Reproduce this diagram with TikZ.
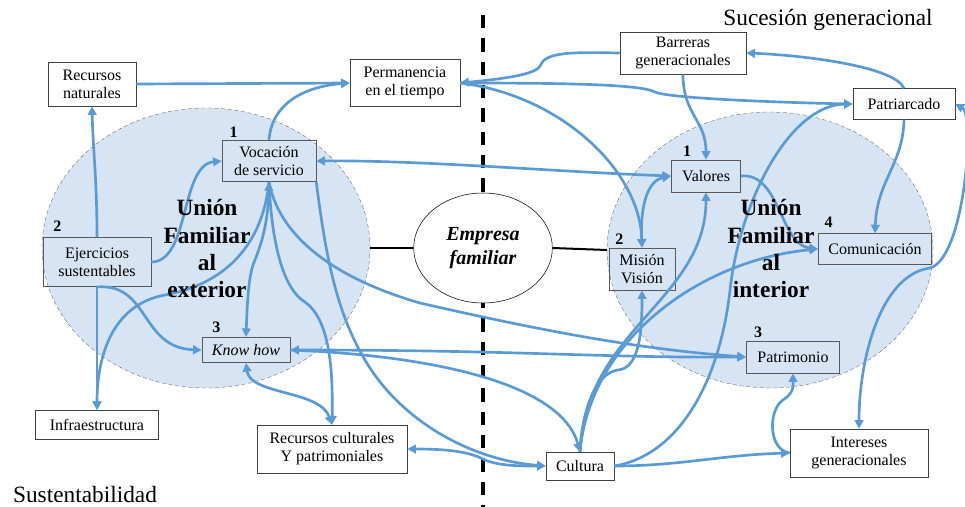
\documentclass[tikz,border=0pt]{standalone}
\usepackage{fontspec}
\setmainfont{Liberation Serif}
\usepackage{xcolor}
\usepackage{tikz}
\usetikzlibrary{shapes.geometric, arrows.meta, positioning}

\definecolor{linkblue}{RGB}{91,155,213}
\definecolor{zoneblue}{RGB}{214,228,243}

\begin{document}
\begin{tikzpicture}[
        x=0.75pt, y=-0.75pt,
        outbox/.style={rectangle, draw=black!75, fill=white, align=center, inner sep=1pt, font=\fontsize{12}{13.5}\selectfont},
        inbox/.style={rectangle, draw=black!65, align=center, inner sep=1pt, font=\fontsize{12}{13.5}\selectfont},
        zone/.style={ellipse, draw=black!70, densely dashed, very thin, fill=zoneblue, inner sep=0pt},
        core/.style={ellipse, draw=black, thin, fill=white, inner sep=0pt, align=center, font=\fontsize{15}{18}\selectfont\bfseries\itshape},
        zonetitle/.style={align=center, font=\fontsize{17.5}{20.5}\selectfont\bfseries},
        num/.style={font=\fontsize{12}{14}\selectfont\bfseries, inner sep=2pt},
        theme/.style={font=\fontsize{17.5}{20}\selectfont},
        link/.style={-{Triangle[length=6.5pt, width=6.5pt]}, line width=2pt, color=linkblue},
        dlink/.style={{Triangle[length=6.5pt, width=6.5pt]}-{Triangle[length=6.5pt, width=6.5pt]}, line width=2pt, color=linkblue},
        tie/.style={line width=1.5pt, black}
    ]
    \useasboundingbox (0,0) rectangle (965,507);

    % Union zones
    \node (ext) [zone, minimum width=246pt, minimum height=210pt] at (206,248) {};
    \node (int) [zone, minimum width=244.5pt, minimum height=207pt] at (770,250) {};

    % Divider
    \draw[line width=3pt, dash pattern=on 10pt off 7.5pt] (483,15) -- (483,507);

    % Empresa familiar
    \node (emp) [core, minimum width=104pt, minimum height=82.5pt] at (483,248) {Empresa\\familiar};
    \draw[tie] (ext.east) -- (emp.west);
    \draw[tie] (emp.east) -- (int.west);

    % Outer boxes
    \node (recnat) [outbox, minimum width=66pt, minimum height=33pt] at (92,84) {Recursos\\naturales};
    \node (perm) [outbox, minimum width=82.5pt, minimum height=35pt] at (405,83) {Permanencia\\en el tiempo};
    \node (barr) [outbox, minimum width=94.5pt, minimum height=31.5pt] at (683,53) {Barreras\\generacionales};
    \node (patr) [outbox, minimum width=76.5pt, minimum height=23pt] at (904,104) {Patriarcado};
    \node (infra) [outbox, minimum width=92pt, minimum height=22pt] at (97,425) {Infraestructura};
    \node (reccul) [outbox, minimum width=112.5pt, minimum height=36pt] at (332,449) {Recursos culturales\\Y patrimoniales};
    \node (cul) [outbox, minimum width=51pt, minimum height=21pt] at (580,466) {Cultura};
    \node (inter) [outbox, minimum width=103.5pt, minimum height=36pt] at (859,453) {Intereses\\generacionales};

    % Union al exterior
    \node (voc) [inbox, minimum width=70.5pt, minimum height=31pt] at (269,161) {Vocación\\de servicio};
    \node (ejer) [inbox, minimum width=81pt, minimum height=37pt] at (97,262) {Ejercicios\\sustentables};
    \node (know) [inbox, minimum width=66pt, minimum height=19pt] at (246,350) {\itshape Know how};

    % Union al interior
    \node (val) [inbox, minimum width=52pt, minimum height=24pt] at (706,176) {Valores};
    \node (mis) [inbox, minimum width=49.5pt, minimum height=31.5pt] at (642,269) {Misión\\Visión};
    \node (com) [inbox, minimum width=85pt, minimum height=23pt] at (875,249) {Comunicación};
    \node (patm) [inbox, minimum width=70pt, minimum height=24pt] at (793,357) {Patrimonio};

    % Sustentabilidad side
    \draw[link] (recnat.east) -- (perm.west);
    \draw[link] (voc.north) .. controls (272,100) and (310,86) .. (perm.west);
    \draw[link] (ejer.north) .. controls (97,180) and (93,150) .. (recnat.south);
    \draw[link] (ejer.east) .. controls (190,262) and (180,165) .. (voc.west);
    \draw[link] (ejer.south) -- (infra.north);
    \draw[link] (ejer.south) .. controls (150,283) and (140,348) .. (know.west);
    \draw[dlink] (voc.south) .. controls (268,230) and (258,252) .. (253,265) .. controls (248,280) and (247,310) .. (know.north);
    \draw[link] (voc.south) .. controls (262,250) and (220,285) .. (165,295) .. controls (110,305) and (97,360) .. (infra.north);
    \draw[link] (voc.south) .. controls (272,250) and (285,290) .. (305,302) .. controls (330,320) and (333,370) .. (reccul.north);
    \draw[dlink] (know.south) .. controls (250,395) and (320,390) .. (reccul.north);
    \draw[link] (voc.south) .. controls (280,240) and (340,280) .. (420,303) .. controls (560,335) and (650,350) .. (patm.west);
    \draw[link] (voc.south east) .. controls (325,250) and (335,310) .. (365,360) .. controls (400,420) and (470,460) .. (cul.west);
    \draw[dlink] (voc.east) .. controls (420,160) and (560,172) .. (val.west);
    \draw[dlink] (know.east) .. controls (520,350) and (600,358) .. (patm.west);
    \draw[link] (know.east) .. controls (420,355) and (560,380) .. (cul.north);
    \draw[dlink] (reccul.east) .. controls (450,449) and (470,452) .. (485,460) .. controls (500,466) and (520,466) .. (cul.west);

    % Permanencia
    \draw[link] (barr.west) .. controls (570,52) and (545,52) .. (540,66) .. controls (535,76) and (490,80) .. (perm.east);
    \draw[link] (perm.east) .. controls (560,83) and (640,84) .. (655,92) .. controls (670,99) and (800,103) .. (patr.west);
    \draw[link] (perm.east) .. controls (560,95) and (640,170) .. (mis.north);

    % Sucesion generacional side
    \draw[link] (patr.north) .. controls (895,66) and (800,55) .. (barr.east);
    \draw[link] (barr.south) .. controls (683,115) and (706,120) .. (val.north);
    \draw[link] (patr.south) .. controls (903,165) and (877,180) .. (com.north);
    \draw[dlink] (inter.north) .. controls (859,360) and (880,275) .. (930,268) .. controls (965,258) and (975,115) .. (patr.east);
    \draw[dlink] (val.west) .. controls (650,180) and (640,200) .. (mis.north);
    \draw[link] (val.east) .. controls (780,172) and (780,245) .. (com.west);
    \draw[link] (cul.north) .. controls (590,340) and (700,260) .. (com.west);
    \draw[link] (cul.north) .. controls (585,330) and (706,300) .. (val.south);
    \draw[link] (cul.north) .. controls (583,400) and (600,372) .. (618,370) .. controls (640,368) and (642,330) .. (mis.south);
    \draw[link] (cul.east) .. controls (680,455) and (720,380) .. (730,290) .. controls (740,200) and (790,105) .. (patr.west);
    \draw[link] (cul.east) .. controls (680,466) and (720,455) .. (inter.west);
    \draw[link] (inter.west) .. controls (768,450) and (768,410) .. (783,400) .. controls (795,392) and (793,385) .. (patm.south);

    % Titles and numbers
    \node (exttitle) [zonetitle] at (207,249) {Unión\\Familiar\\al\\exterior};
    \node (inttitle) [zonetitle] at (771,249) {Unión\\Familiar\\al\\interior};
    \node (e1) [num, above=0pt of voc.north west, xshift=9pt] {1};
    \node (e2) [num, above=2pt of ejer.north west, xshift=11pt] {2};
    \node (e3) [num, above=1pt of know.north west, xshift=11pt] {3};
    \node (i1) [num, above=0pt of val.north west, xshift=12pt] {1};
    \node (i2) [num, above=0pt of mis.north west, xshift=8pt] {2};
    \node (i3) [num, above=0pt of patm.north west, xshift=9pt] {3};
    \node (i4) [num, above=2pt of com.north west, xshift=8pt] {4};

    \node (sust) [theme] at (85,495) {Sustentabilidad};
    \node (suc) [theme] at (828,20) {Sucesión generacional};

    \end{tikzpicture}
\end{document}
